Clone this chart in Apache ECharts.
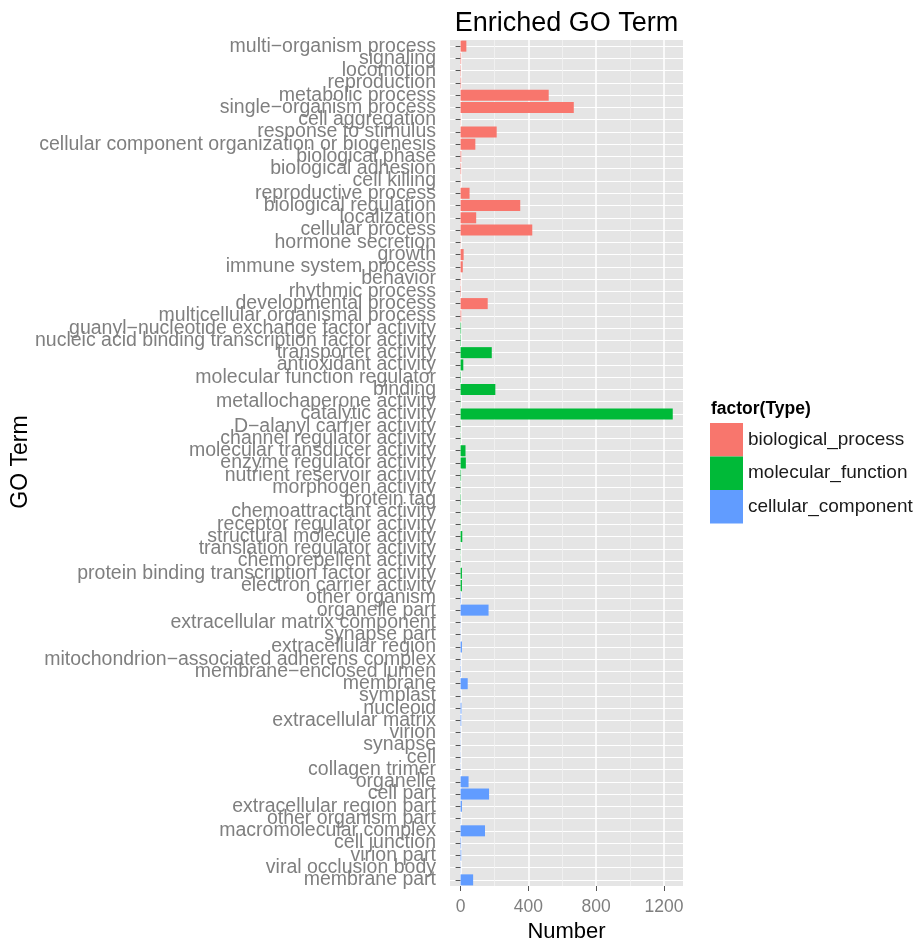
<!DOCTYPE html>
<html><head><meta charset="utf-8">
<script src="https://cdn.jsdelivr.net/npm/echarts@6/dist/echarts.min.js"></script>
<style>html,body{margin:0;padding:0;background:#fff}#c{width:918px;height:938px}</style>
</head><body><div id="c"></div>
<script>
// ---- data ----
const bpTerms = ['multi−organism process','signaling','locomotion','reproduction','metabolic process','single−organism process','cell aggregation','response to stimulus','cellular component organization or biogenesis','biological phase','biological adhesion','cell killing','reproductive process','biological regulation','localization','cellular process','hormone secretion','growth','immune system process','behavior','rhythmic process','developmental process','multicellular organismal process'];
const bpCounts = [34,3,2,3,520,668,1,213,87,4,3,1,53,352,92,423,1,18,13,1,2,160,4];

const mfTerms = ['guanyl−nucleotide exchange factor activity','nucleic acid binding transcription factor activity','transporter activity','antioxidant activity','molecular function regulator','binding','metallochaperone activity','catalytic activity','D−alanyl carrier activity','channel regulator activity','molecular transducer activity','enzyme regulator activity','nutrient reservoir activity','morphogen activity','protein tag','chemoattractant activity','receptor regulator activity','structural molecule activity','translation regulator activity','chemorepellent activity','protein binding transcription factor activity','electron carrier activity'];
const mfCounts = [3,2,184,16,2,205,1,1252,1,1,29,31,3,1,2,1,1,10,1,1,8,8];

const ccTerms = ['other organism','organelle part','extracellular matrix component','synapse part','extracellular region','mitochondrion−associated adherens complex','membrane−enclosed lumen','membrane','symplast','nucleoid','extracellular matrix','virion','synapse','cell','collagen trimer','organelle','cell part','extracellular region part','other organism part','macromolecular complex','cell junction','virion part','viral occlusion body','membrane part'];
const ccCounts = [2,165,1,1,8,1,2,42,1,5,4,1,1,1,1,47,168,8,1,144,3,4,1,74];

const typeNames = ['biological_process','molecular_function','cellular_component'];
const typeColors = ['#F8766D','#00BA38','#619CFF'];
const xMajorTicks = [0,400,800,1200];
const xMinorTicks = [200,600,1000];
const xRange = [-62.5, 1312.5];

// ---- build ----
const FONT = '"Liberation Sans", Arial, Helvetica, sans-serif';
const categories = bpTerms.concat(mfTerms, ccTerms);
const groups = [bpCounts, mfCounts, ccCounts];
function padded(idx) {
  let out = [];
  groups.forEach((g, i) => {
    g.forEach(v => out.push(i === idx ? v : '-'));
  });
  return out;
}

const chart = echarts.init(document.getElementById('c'), null, {renderer: 'canvas'});
const option = {
  animation: false,
  textStyle: {fontFamily: FONT},
  grid: {left: 450, top: 40, width: 233, height: 846, show: true, backgroundColor: '#E5E5E5', borderWidth: 0, containLabel: false, outerBoundsMode: 'none'},
  legend: {
    data: typeNames, orient: 'vertical', left: 710, top: 423, padding: 0,
    itemWidth: 33, itemHeight: 33.5, itemGap: 0, icon: 'rect',
    textStyle: {fontSize: 19, color: '#1a1a1a', fontFamily: FONT}
  },
  xAxis: [
    {
      type: 'value', min: xRange[0], max: xRange[1],
      axisLine: {show: false},
      axisTick: {show: true, customValues: xMajorTicks, length: 5, lineStyle: {color: '#555', width: 1}},
      axisLabel: {customValues: xMajorTicks, color: '#7f7f7f', fontSize: 17.5, margin: 12, fontFamily: FONT,
                  formatter: v => String(v)},
      splitLine: {show: true, lineStyle: {color: '#ffffff', width: 1.5}},
      name: 'Number', nameLocation: 'middle', nameGap: 32,
      nameTextStyle: {fontSize: 22, color: '#000', fontFamily: FONT}
    },
    {
      type: 'value', min: xRange[0], max: xRange[1], position: 'bottom',
      axisLine: {show: false},
      axisTick: {show: false, customValues: xMinorTicks},
      axisLabel: {show: false, customValues: xMinorTicks},
      splitLine: {show: true, lineStyle: {color: '#F2F2F2', width: 0.8}}
    }
  ],
  yAxis: {
    type: 'category', inverse: true, data: categories,
    axisLine: {show: false},
    axisTick: {show: true, alignWithLabel: true, interval: 0, length: 5, lineStyle: {color: '#555'}},
    axisLabel: {interval: 0, color: '#7f7f7f', fontSize: 19.5, margin: 14, fontFamily: FONT},
    splitLine: {show: true, alignWithLabel: true, interval: 0, lineStyle: {color: '#ffffff', width: 1.2}}
  },
  graphic: [
    {type: 'text', x: 566.5, y: 24, style: {text: 'Enriched GO Term', font: '27px ' + FONT, fill: '#000', textAlign: 'center', textVerticalAlign: 'middle'}},
    {type: 'text', x: 21, y: 462, rotation: Math.PI / 2, style: {text: 'GO Term', font: '23px ' + FONT, fill: '#000', textAlign: 'center', textVerticalAlign: 'middle'}},
    {type: 'text', x: 711, y: 409, style: {text: 'factor(Type)', font: 'bold 17.5px ' + FONT, fill: '#000', textAlign: 'left', textVerticalAlign: 'middle'}}
  ],
  series: typeNames.map((n, i) => ({
    name: n, type: 'bar', stack: 'go', xAxisIndex: 0,
    barCategoryGap: '10%',
    itemStyle: {color: typeColors[i]},
    data: padded(i)
  }))
};
chart.setOption(option);
</script>
</body></html>
